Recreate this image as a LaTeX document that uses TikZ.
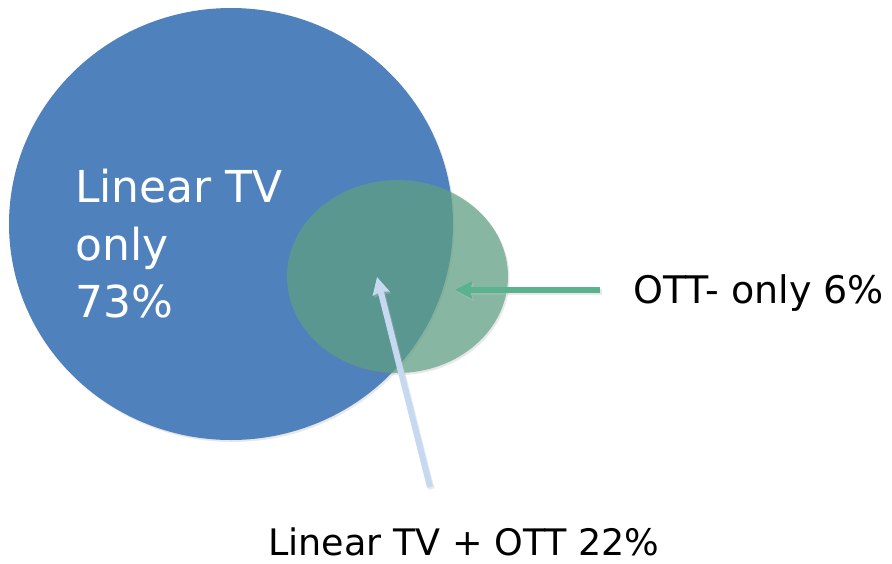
\documentclass[tikz,border=0pt]{standalone}
\usepackage{fontspec}
\setmainfont{DejaVu Sans}
\usetikzlibrary{shapes.geometric,arrows.meta,shadows}
\definecolor{tvblue}{RGB}{79,129,189}
\definecolor{ottgreen}{RGB}{92,162,131}
\definecolor{arrgreen}{RGB}{91,178,143}
\definecolor{arrblue}{RGB}{198,217,240}
\begin{document}
\begin{tikzpicture}[x=1pt,y=-1pt,
  blob/.style={ellipse,inner sep=0pt,draw=none},
  pointer/.style={line width=6pt,-{Stealth[length=17pt,width=17pt,inset=2pt]}},
  shadowed/.style={drop shadow={opacity=0.18,shadow xshift=1.5pt,shadow yshift=-2pt}},
  label/.style={inner sep=0pt,text=black}]
\useasboundingbox (0,0) rectangle (892,563);
\node[blob,shadowed,fill=tvblue,minimum width=444pt,minimum height=432pt] (tv) at (231,224) {};
\node[blob,shadowed,fill=ottgreen,fill opacity=0.69,minimum width=221pt,minimum height=193pt] (ott) at (397.5,276.5) {};
\node[anchor=north west,inner sep=0pt,align=left,text=white,
  font=\fontsize{44}{57.5}\selectfont] (tvlab) at (75,169) {Linear TV\\only\\73\%};
\node[label,anchor=base west,font=\fontsize{38}{44}\selectfont] (ottlab) at (633,303) {OTT- only 6\%};
\node[label,anchor=base west,font=\fontsize{36.5}{44}\selectfont] (bothlab) at (268,555) {Linear TV + OTT 22\%};
\coordinate (gs) at (600,290);
\coordinate (gt) at (455,290);
\coordinate (bs) at (430,487);
\coordinate (bt) at (377,277);
\draw[pointer,draw=black!25,opacity=0.35,fill=black!25] ([shift={(1.5,2)}]gs) -- ([shift={(1.5,2)}]gt);
\draw[pointer,draw=arrgreen,fill=arrgreen] (gs) -- (gt);
\draw[pointer,draw=black!25,opacity=0.35,fill=black!25] ([shift={(1.5,2)}]bs) -- ([shift={(1.5,2)}]bt);
\draw[pointer,draw=arrblue,fill=arrblue] (bs) -- (bt);
\end{tikzpicture}
\end{document}
